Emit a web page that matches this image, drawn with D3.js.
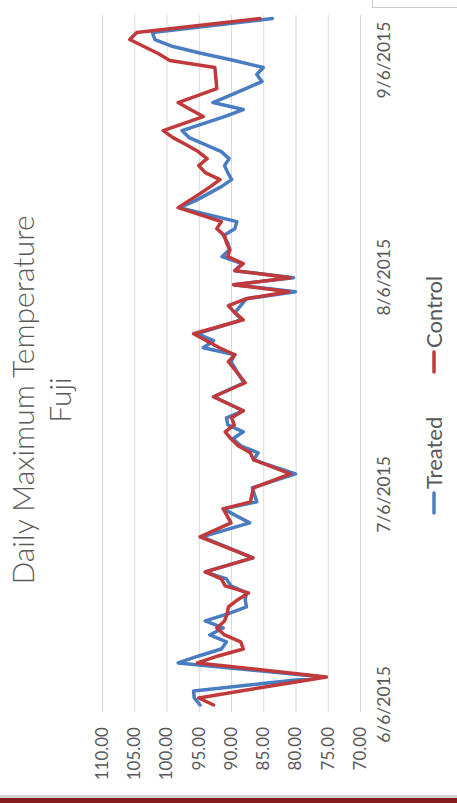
<!DOCTYPE html>
<html>
<head>
<meta charset="utf-8">
<script src="https://cdn.jsdelivr.net/npm/d3@7"></script>
<style>
  html, body { margin: 0; padding: 0; background: #fff; }
  svg { display: block; }
</style>
</head>
<body>
<script>
// Daily maximum temperature readings (deg F), Fuji block, summer 2015
const dates = [
  "2015-06-06","2015-06-07","2015-06-08","2015-06-10","2015-06-12","2015-06-13","2015-06-14",
  "2015-06-15","2015-06-16","2015-06-17","2015-06-18","2015-06-19","2015-06-20","2015-06-21",
  "2015-06-22","2015-06-23","2015-06-24","2015-06-25","2015-06-27","2015-06-30","2015-07-02",
  "2015-07-04","2015-07-05","2015-07-07","2015-07-09","2015-07-11","2015-07-12","2015-07-13",
  "2015-07-14","2015-07-15","2015-07-16","2015-07-17","2015-07-18","2015-07-20","2015-07-22",
  "2015-07-25","2015-07-26","2015-07-27","2015-07-28","2015-07-29","2015-07-31","2015-08-01",
  "2015-08-02","2015-08-03","2015-08-04","2015-08-05","2015-08-06","2015-08-07","2015-08-08",
  "2015-08-09","2015-08-10","2015-08-11","2015-08-12","2015-08-13","2015-08-14","2015-08-16",
  "2015-08-17","2015-08-18","2015-08-19","2015-08-20","2015-08-21","2015-08-22","2015-08-23",
  "2015-08-24","2015-08-25","2015-08-26","2015-08-27","2015-08-29","2015-08-30","2015-08-31",
  "2015-09-02","2015-09-03","2015-09-04","2015-09-05","2015-09-06","2015-09-07","2015-09-08",
  "2015-09-09","2015-09-10","2015-09-12"
];

const treated = [
  94.8, 95.7, 95.8, 75.7, 98.2, 95.0, 91.5,
  90.7, 93.3, 91.2, 94.0, 90.5, 87.6, 87.8,
  87.6, 90.0, 90.7, 94.0, 86.6, 94.5, 87.1,
  91.2, 86.0, 86.7, 80.0, 86.5, 85.8, 88.5,
  89.7, 88.1, 90.5, 90.7, 88.1, 92.7, 88.0,
  90.0, 89.4, 94.3, 92.7, 95.3, 88.3, 89.4,
  88.5, 87.6, 80.0, 89.6, 80.3, 89.4, 88.3,
  91.4, 90.2, 90.5, 91.2, 89.4, 89.1, 98.0,
  95.5, 93.5, 91.5, 89.9, 90.5, 91.0, 90.3,
  91.5, 94.0, 96.5, 97.6, 91.0, 88.1, 92.8,
  87.7, 85.2, 86.0, 85.0, 89.5, 94.5, 99.0,
  101.8, 102.2, 83.6
];

const control = [
  92.7, 95.0, 88.5, 75.2, 95.2, 92.0, 88.1,
  88.5, 91.0, 92.2, 91.0, 90.6, 90.4, 89.0,
  87.3, 90.9, 91.5, 94.0, 86.6, 94.8, 90.0,
  91.2, 87.0, 86.5, 80.8, 86.5, 87.0, 88.9,
  90.0, 90.9, 89.5, 89.9, 88.1, 92.7, 87.8,
  90.4, 89.4, 91.8, 93.8, 95.8, 88.1, 89.4,
  90.4, 87.6, 81.0, 89.6, 80.8, 89.4, 88.1,
  90.5, 90.2, 90.7, 91.0, 92.2, 91.5, 98.2,
  96.5, 94.8, 93.2, 91.7, 94.0, 95.0, 93.7,
  95.1, 97.0, 99.0, 100.5, 94.3, 96.3, 98.2,
  92.2, 92.3, 92.4, 92.5, 99.5, 101.3, 103.5,
  105.7, 104.6, 85.5
];

const valueTicks = [70, 75, 80, 85, 90, 95, 100, 105, 110];
const dateTicks = ["2015-06-06", "2015-07-06", "2015-08-06", "2015-09-06"];
const seriesNames = ["Treated", "Control"];
const seriesColors = ["#4A7CC2", "#C0393B"];
const titleLines = ["Daily Maximum Temperature", "Fuji"];

const W = 457, H = 803;
const parse = d3.timeParse("%Y-%m-%d");
const font = "Lato, 'Open Sans', 'Liberation Sans', sans-serif";
const grey = "#595959";

const svg = d3.select("body").append("svg")
  .attr("width", W).attr("height", H)
  .attr("viewBox", `0 0 ${W} ${H}`);

svg.append("rect").attr("width", W).attr("height", H).attr("fill", "#fff");

// The chart is laid out landscape (803 wide x 457 tall) and turned a quarter turn
const g = svg.append("g").attr("transform", `translate(0,${H}) rotate(-90)`);

const plot = { left: 91, right: 788, top: 102, bottom: 360 };

const x = d3.scaleTime()
  .domain([new Date(2015, 5, 5), new Date(2015, 8, 12, 12)])
  .range([plot.left, plot.right]);

const y = d3.scaleLinear()
  .domain([70, 110])
  .range([plot.bottom, plot.top]);

// value axis with gridlines
const yAxis = g.append("g")
  .attr("transform", `translate(${plot.left},0)`)
  .call(d3.axisLeft(y)
    .tickValues(valueTicks)
    .tickFormat(d3.format(".2f"))
    .tickSizeInner(-(plot.right - plot.left))
    .tickSizeOuter(0)
    .tickPadding(15));
yAxis.select(".domain").remove();
yAxis.selectAll(".tick line").attr("stroke", "#d9d9d9").attr("stroke-width", 1);
yAxis.selectAll(".tick text")
  .attr("fill", grey).attr("font-family", font).attr("font-size", 17);

// date axis
const xAxis = g.append("g")
  .attr("transform", `translate(0,${plot.bottom})`)
  .call(d3.axisBottom(x)
    .tickValues(dateTicks.map(parse))
    .tickFormat(d3.timeFormat("%-m/%-d/%Y"))
    .tickSize(0)
    .tickPadding(18));
xAxis.select(".domain").remove();
xAxis.selectAll(".tick text")
  .attr("fill", grey).attr("font-family", font).attr("font-size", 17.5);

// series lines
const series = [treated, control];
const line = d3.line()
  .x((d, i) => x(parse(dates[i])))
  .y(d => y(d));

series.forEach((vals, k) => {
  g.append("path")
    .datum(vals)
    .attr("d", line)
    .attr("fill", "none")
    .attr("stroke", seriesColors[k])
    .attr("stroke-width", 3.5)
    .attr("stroke-linejoin", "round")
    .attr("stroke-linecap", "round");
});

// title
g.append("text")
  .attr("x", 403).attr("y", 34)
  .attr("text-anchor", "middle")
  .attr("font-family", font).attr("font-weight", 300)
  .attr("font-size", 30).attr("fill", grey)
  .text(titleLines[0]);
g.append("text")
  .attr("x", 403).attr("y", 71)
  .attr("text-anchor", "middle")
  .attr("font-family", font).attr("font-weight", 300)
  .attr("font-size", 30).attr("fill", grey)
  .text(titleLines[1]);

// legend
const legendX = [290, 431];
seriesNames.forEach((name, k) => {
  const lg = g.append("g").attr("transform", `translate(${legendX[k]},434)`);
  lg.append("line")
    .attr("x1", 0).attr("x2", 20).attr("y1", 0).attr("y2", 0)
    .attr("stroke", seriesColors[k]).attr("stroke-width", 3.5)
    .attr("stroke-linecap", "round");
  lg.append("text")
    .attr("x", 24).attr("y", 8)
    .attr("font-family", font).attr("font-size", 22)
    .attr("fill", grey)
    .text(name);
});

// page frame pieces: footer rule and corner box
svg.append("rect").attr("x", 0).attr("y", 795).attr("width", W).attr("height", 3).attr("fill", "#d4d4d4");
svg.append("rect").attr("x", 0).attr("y", 798).attr("width", W).attr("height", 5).attr("fill", "#861b20");
svg.append("rect").attr("x", 372.5).attr("y", -1).attr("width", 90).attr("height", 8.5)
  .attr("fill", "#fff").attr("stroke", "#c8c8c8");
</script>
</body>
</html>
